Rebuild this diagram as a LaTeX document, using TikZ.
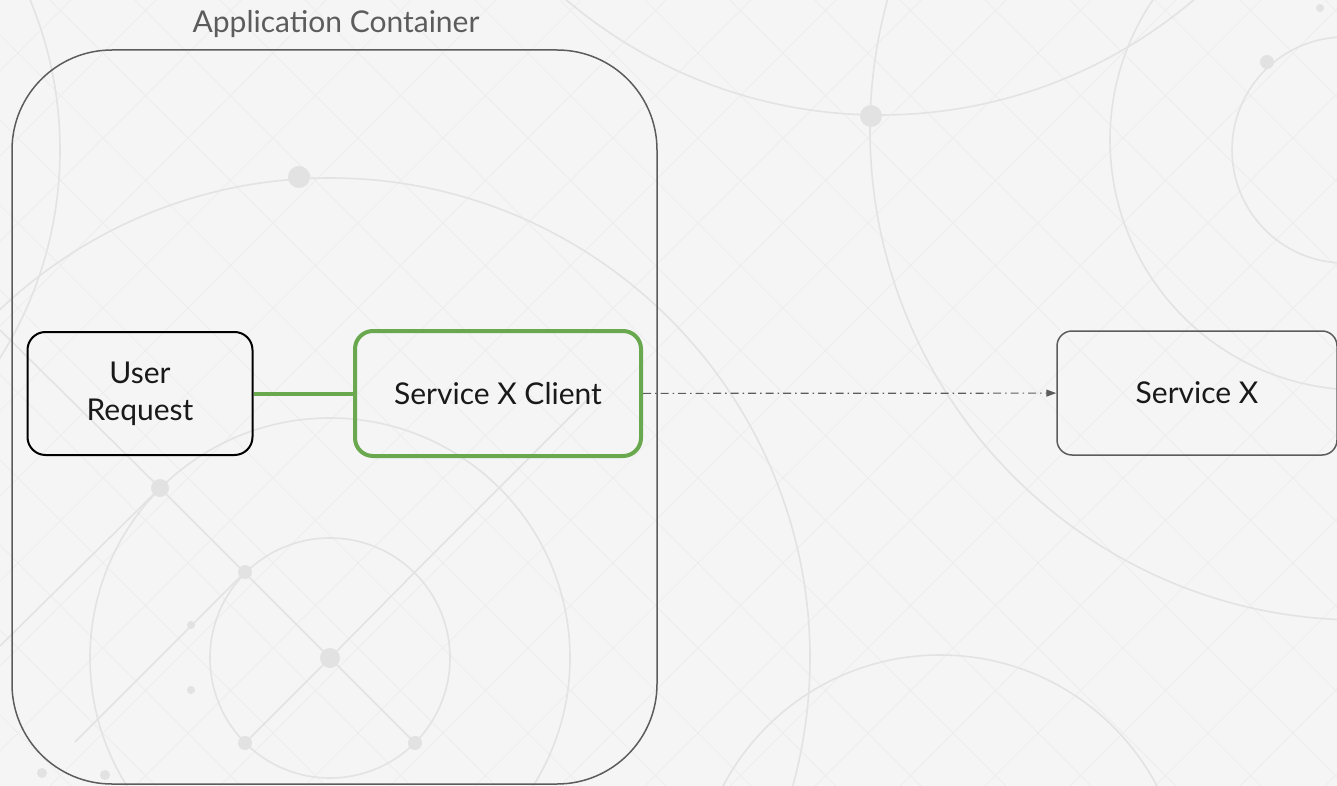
\documentclass[tikz,border=0pt]{standalone}
\usepackage{fontspec}
\setmainfont{Lato}
\usepackage{xcolor}
\usepackage{tikz}
\usetikzlibrary{arrows.meta, positioning}

\definecolor{bgpaper}{HTML}{F5F5F5}
\definecolor{bghatch}{HTML}{EDEDED}
\definecolor{bgline}{HTML}{E3E3E3}
\definecolor{bgdot}{HTML}{E2E2E2}
\definecolor{boxgray}{HTML}{5C5C5C}
\definecolor{clientgreen}{HTML}{6AA84F}

\tikzset{
	box/.style={draw, rounded corners=18pt, align=center, inner sep=0pt,
		font=\fontsize{30}{37}\selectfont, text=black!90},
	link/.style={clientgreen, line width=4pt},
	call/.style={boxgray, line width=1.2pt, dash pattern=on 8pt off 4pt on 1.5pt off 4pt,
		-{Triangle[length=10pt, width=7pt]}},
	deco/.style={bgline, line width=1.6pt},
}

\begin{document}
\begin{tikzpicture}[x=1pt, y=-1pt]
		\useasboundingbox (0,0) rectangle (1337,786);
		\fill[bgpaper] (0,0) rectangle (1337,786);

		\begin{scope}
			\clip (0,0) rectangle (1337,786);
			\foreach \k in {-800, -715, ..., 1400} {
					\draw[bghatch, line width=0.8pt] (\k, 0) -- ++(786, 786);
					\draw[bghatch, line width=0.8pt] (\k+786, 0) -- ++(-786, 786);
				}
			\draw[deco] (330, 658) circle (120);
			\draw[deco] (330, 658) circle (240);
			\draw[deco] (330, 658) circle (480);
			\draw[deco] (880, -370) circle (485);
			\draw[deco] (1360, 130) circle (490);
			\draw[deco] (1360, 140) circle (250);
			\draw[deco] (1345, 150) circle (113);
			\draw[deco] (940, 900) circle (245);
			\draw[deco] (-330, 150) circle (390);
			\draw[deco] (160, 488) -- (330, 658) -- (415, 572) -- (600, 387);
			\draw[deco] (0, 330) -- (160, 488) -- (0, 646);
			\draw[deco] (245, 572) -- (75, 742);
			\draw[deco] (330, 658) -- (245, 743);
			\draw[deco] (330, 658) -- (415, 743);
			\foreach \px/\py/\r in {330/658/10, 299/177/11, 871/116/11, 1267/62/7, 160/488/9,
					245/572/7, 245/743/7, 415/743/7, 191/625/4, 191/690/4, 42/773/5,
					105/775/5, 1320/8/4} {
					\fill[bgdot] (\px, \py) circle (\r);
				}
		\end{scope}

		\node[draw=boxgray, line width=1.5pt, rounded corners=100pt, minimum width=645pt,
			minimum height=734pt] (container) at (334.5, 417) {};
		\node[text=boxgray, font=\fontsize{30}{37}\selectfont] (title) at (336, 24) {Application Container};

		\node[box, line width=2pt, minimum width=225pt, minimum height=123pt] (user) at (140, 393.5) {User\\Request};
		\node[box, draw=clientgreen, line width=4pt, minimum width=286pt, minimum height=125pt] (client) at (498, 393.5) {Service X Client};
		\node[box, draw=boxgray, line width=1.5pt, rounded corners=15pt, minimum width=280pt,
			minimum height=124pt] (service) at (1197, 393) {Service X};

		\draw[link] (user) -- (client);
		\draw[call] (client) -- (service);
	\end{tikzpicture}
\end{document}
